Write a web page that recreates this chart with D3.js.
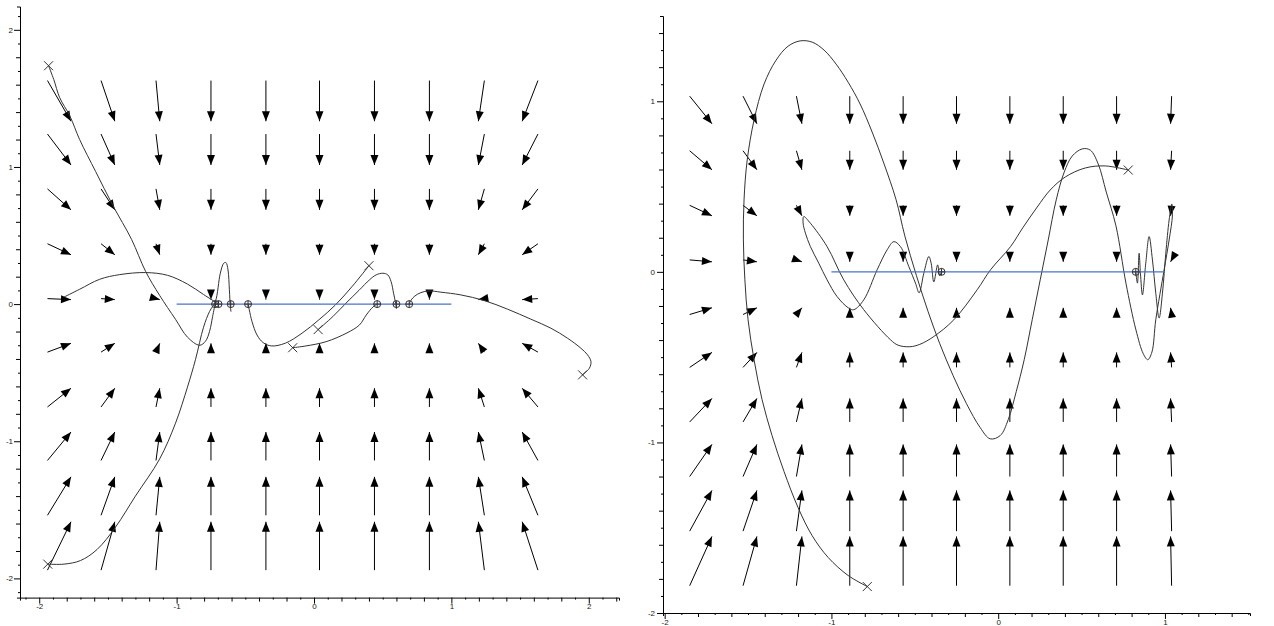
<!DOCTYPE html>
<html>
<head>
<meta charset="utf-8">
<script src="https://cdn.jsdelivr.net/npm/d3@7"></script>
<style>
body { margin: 0; background: #fff; }
text { font-family: "Liberation Sans", Arial, sans-serif; }
</style>
</head>
<body>
<div id="chart"></div>
<script>
// ---------- left plot : field grid (arrow tails) and field values ----------
var leftGridX = [-1.94, -1.55, -1.15, -0.75, -0.35, 0.04, 0.44, 0.84, 1.24, 1.63];
var leftGridY = [1.63, 1.24, 0.84, 0.44, 0.04, -0.35, -0.75, -1.14, -1.54, -1.94];
var leftU = [0.94, 0.55, 0.15, 0, 0, 0, 0, 0, -0.24, -0.63];   // per column
var leftV = [-1.63, -1.24, -0.84, -0.44, -0.04, 0.35, 0.75, 1.14, 1.54, 1.94]; // per row

// left plot trajectories
var trajA = [[-1.932,1.738],[-1.894,1.637],[-1.851,1.505],[-1.778,1.374],[-1.706,1.200],[-1.589,0.966],[-1.464,0.719],[-1.328,0.472],[-1.226,0.239],[-1.124,0.064],[-1.008,-0.111],[-0.921,-0.241],[-0.833,-0.300],[-0.790,-0.271],[-0.760,-0.198],[-0.738,-0.09],[-0.72,0.0]];
var trajB = [[-1.938,-1.896],[-1.82,-1.896],[-1.70,-1.87],[-1.58,-1.79],[-1.444,-1.625],[-1.30,-1.40],[-1.124,-1.13],[-1.008,-0.868],[-0.921,-0.605],[-0.862,-0.402],[-0.804,-0.168],[-0.76,-0.053],[-0.718,0.018],[-0.682,0.225],[-0.657,0.298],[-0.641,0.303],[-0.626,0.249],[-0.616,0.104],[-0.609,-0.018],[-0.604,-0.055]];
var trajC = [[-1.822,0.050],[-1.706,0.108],[-1.560,0.181],[-1.414,0.215],[-1.226,0.230],[-1.066,0.210],[-0.921,0.146],[-0.804,0.070],[-0.695,0.0]];
var trajE = [[0.40,0.28],[0.277,0.128],[0.156,-0.006],[0.035,-0.115],[-0.087,-0.212],[-0.209,-0.285],[-0.31,-0.305],[-0.37,-0.281],[-0.415,-0.225],[-0.451,-0.128],[-0.471,-0.042],[-0.48,0.0]];
var trajF = [[0.03,-0.186],[0.137,-0.091],[0.233,0.007],[0.331,0.104],[0.404,0.177],[0.452,0.213],[0.501,0.225],[0.537,0.213],[0.561,0.164],[0.579,0.080],[0.595,0.001],[0.60,-0.035]];
var trajG = [[-0.155,-0.318],[-0.058,-0.305],[0.088,-0.274],[0.24,-0.21],[0.331,-0.152],[0.38,-0.08],[0.43,-0.02],[0.46,0.0]];
var trajH = [[1.955,-0.516],[2.004,-0.468],[2.016,-0.419],[1.991,-0.370],[1.943,-0.322],[1.846,-0.249],[1.725,-0.176],[1.579,-0.110],[1.409,-0.037],[1.239,0.026],[1.069,0.067],[0.924,0.087],[0.838,0.096],[0.778,0.084],[0.729,0.055],[0.700,0.018],[0.693,0.0]];
var leftStarts = [[-1.932,1.738],[-1.938,-1.896],[0.40,0.28],[0.03,-0.186],[-0.155,-0.318],[1.955,-0.516]];
var leftEnds = [[-0.72,0],[-0.695,0],[-0.606,0],[-0.48,0],[0.46,0],[0.60,0],[0.693,0]];
var leftSegment = [[-1,0],[1,0]];
var leftXLabels = [-2, -1, 0, 1, 2];
var leftYLabels = [-2, -1, 0, 1, 2];

// ---------- right plot ----------
var rightGridX = [-1.85, -1.53, -1.21, -0.89, -0.57, -0.25, 0.07, 0.39, 0.71, 1.04];
var rightGridY = [1.03, 0.71, 0.39, 0.07, -0.25, -0.56, -0.88, -1.2, -1.52, -1.84];
var rightU = [0.85, 0.53, 0.21, 0, 0, 0, 0, 0, 0, -0.04];
var rightV = [-1.03, -0.71, -0.39, -0.07, 0.25, 0.56, 0.88, 1.2, 1.52, 1.84];

var trajR1 = [[-0.785,-1.845],[-0.900,-1.780],[-1.020,-1.674],[-1.116,-1.546],[-1.200,-1.382],[-1.284,-1.171],[-1.356,-0.960],[-1.416,-0.749],[-1.464,-0.515],[-1.500,-0.281],[-1.519,-0.047],[-1.528,0.187],[-1.524,0.422],[-1.505,0.656],[-1.464,0.890],[-1.404,1.101],[-1.332,1.241],[-1.260,1.323],[-1.188,1.354],[-1.116,1.347],[-1.044,1.300],[-0.972,1.218],[-0.900,1.112],[-0.828,0.984],[-0.756,0.820],[-0.684,0.632],[-0.612,0.422],[-0.56,0.211],[-0.49,-0.023],[-0.42,-0.234],[-0.35,-0.422],[-0.27,-0.609],[-0.19,-0.773],[-0.108,-0.913],[-0.048,-0.979],[0.012,-0.960],[0.060,-0.867],[0.108,-0.703],[0.156,-0.515],[0.204,-0.281],[0.252,-0.047],[0.300,0.187],[0.348,0.422],[0.396,0.585],[0.444,0.679],[0.504,0.721],[0.552,0.714],[0.600,0.632],[0.648,0.468],[0.706,0.27],[0.766,-0.066],[0.826,-0.34],[0.87,-0.48],[0.897,-0.515],[0.922,-0.47],[0.945,-0.281],[0.995,0.012],[1.025,0.187],[1.045,0.334],[1.041,0.398],[1.025,0.304],[1.005,0.109],[0.985,-0.125],[0.965,-0.271],[0.945,-0.125],[0.925,0.070],[0.905,0.207],[0.885,0.051],[0.865,-0.135],[0.853,-0.008],[0.845,0.109],[0.835,-0.066],[0.825,0.0]];
var trajR2 = [[0.780,0.597],[0.642,0.621],[0.522,0.609],[0.402,0.556],[0.312,0.480],[0.234,0.380],[0.150,0.262],[0.074,0.148],[-0.046,0.012],[-0.126,-0.105],[-0.266,-0.281],[-0.386,-0.379],[-0.47,-0.425],[-0.53,-0.439],[-0.60,-0.43],[-0.646,-0.398],[-0.806,-0.222],[-0.926,-0.047],[-1.026,0.148],[-1.126,0.285],[-1.166,0.324],[-1.17,0.287],[-1.156,0.227],[-1.126,0.148],[-1.076,0.051],[-1.026,-0.047],[-0.966,-0.145],[-0.896,-0.213],[-0.866,-0.222],[-0.806,-0.164],[-0.726,0.012],[-0.666,0.129],[-0.626,0.177],[-0.586,0.148],[-0.536,0.031],[-0.496,-0.066],[-0.474,-0.123],[-0.446,-0.008],[-0.416,0.090],[-0.402,0.051],[-0.386,-0.059],[-0.363,0.041],[-0.351,-0.023],[-0.34,0.0]];
var rightStarts = [[-0.785,-1.845],[0.780,0.597]];
var rightEnds = [[-0.34,0],[0.825,0]];
var rightSegment = [[-1,0],[1,0]];
var rightXLabels = [-2, -1, 0, 1];
var rightYLabels = [-2, -1, 0, 1];

// ---------- drawing ----------
var HEAD_LEN = 10, HEAD_W = 4;

var svg = d3.select("#chart").append("svg")
	.attr("width", 1274)
	.attr("height", 626);

svg.append("rect").attr("width", 1274).attr("height", 626).attr("fill", "#fff");

function tickLen(d) {
	var k = Math.round(d * 10);
	if (k % 10 === 0) return 6;
	return (k % 2 === 0) ? 4 : 2;
}

function headPath(x0, y0, x1, y1) {
	var dx = x1 - x0, dy = y1 - y0, len = Math.sqrt(dx*dx + dy*dy);
	if (len < 0.01) return null;
	var ux = dx/len, uy = dy/len;
	var bx = x1 - ux*HEAD_LEN, by = y1 - uy*HEAD_LEN;
	return "M" + x1 + "," + y1 +
		"L" + (bx - uy*HEAD_W) + "," + (by + ux*HEAD_W) +
		"L" + (bx + uy*HEAD_W) + "," + (by - ux*HEAD_W) + "Z";
}

function drawPanel(p) {
	var x = d3.scaleLinear().domain(p.xDomain).range(p.xRange);
	var y = d3.scaleLinear().domain(p.yDomain).range(p.yRange);
	var g = svg.append("g");

	// axes with a tick every 0.1
	var xt = d3.range(Math.ceil(p.xDomain[0]*10), Math.floor(p.xDomain[1]*10) + 1).map(function(d) {return d/10;});
	var yt = d3.range(Math.ceil(p.yDomain[0]*10), Math.floor(p.yDomain[1]*10) + 1).map(function(d) {return d/10;});

	var xAxis = g.append("g")
		.attr("transform", "translate(0," + p.yRange[0] + ")")
		.call(d3.axisBottom(x).tickValues(xt).tickSizeOuter(0).tickSize(3).tickPadding(p.xPad)
			.tickFormat(function(d) {return p.xLabels.indexOf(Math.round(d*10)/10) >= 0 ? String(d) : "";}));
	xAxis.selectAll(".tick line").attr("y2", tickLen);

	var yAxis = g.append("g")
		.attr("transform", "translate(" + p.xRange[0] + ",0)")
		.call(d3.axisLeft(y).tickValues(yt).tickSizeOuter(0).tickSize(3).tickPadding(p.yPad)
			.tickFormat(function(d) {return p.yLabels.indexOf(Math.round(d*10)/10) >= 0 ? String(d) : "";}));
	yAxis.selectAll(".tick line").attr("x2", function(d) {return -tickLen(d);});

	g.selectAll(".domain").attr("stroke", "#000");
	g.selectAll(".tick text").style("font-size", "8px").attr("fill", "#222");

	// vector field
	var cells = d3.cross(d3.range(p.gridX.length), d3.range(p.gridY.length));
	var arrows = g.append("g");
	cells.forEach(function(c) {
		var i = c[0], j = c[1];
		var x0 = x(p.gridX[i]), y0 = y(p.gridY[j]);
		var x1 = x(p.gridX[i] + p.scale*p.u[i]), y1 = y(p.gridY[j] + p.scale*p.v[j]);
		arrows.append("line")
			.attr("x1", x0).attr("y1", y0).attr("x2", x1).attr("y2", y1)
			.attr("stroke", "#000").attr("stroke-width", 1);
		var hp = headPath(x0, y0, x1, y1);
		if (hp) arrows.append("path").attr("d", hp).attr("fill", "#000");
	});

	// trajectories
	var lineGen = d3.line()
		.x(function(d) {return x(d[0]);})
		.y(function(d) {return y(d[1]);})
		.curve(d3.curveCatmullRom.alpha(0.5));

	g.selectAll(".traj")
		.data(p.trajectories)
		.enter().append("path")
		.attr("class", "traj")
		.attr("d", lineGen)
		.attr("fill", "none")
		.attr("stroke", "#333")
		.attr("stroke-width", 1);

	// segment of rest points
	g.append("path")
		.datum(p.segment)
		.attr("d", d3.line().x(function(d) {return x(d[0]);}).y(function(d) {return y(d[1]);}))
		.attr("stroke", "#4a72c4")
		.attr("stroke-width", 1.2)
		.attr("fill", "none");

	// start markers (x)
	g.selectAll(".start")
		.data(p.starts)
		.enter().append("path")
		.attr("class", "start")
		.attr("transform", function(d) {return "translate(" + x(d[0]) + "," + y(d[1]) + ")";})
		.attr("d", "M-4.5,-4.5L4.5,4.5M-4.5,4.5L4.5,-4.5")
		.attr("stroke", "#333")
		.attr("stroke-width", 1);

	// end markers (circle plus)
	var ends = g.selectAll(".end")
		.data(p.ends)
		.enter().append("g")
		.attr("class", "end")
		.attr("transform", function(d) {return "translate(" + x(d[0]) + "," + y(d[1]) + ")";});
	ends.append("circle").attr("r", 3.5).attr("fill", "none").attr("stroke", "#333").attr("stroke-width", 1);
	ends.append("path").attr("d", "M-3.5,0L3.5,0M0,-3.5L0,3.5").attr("stroke", "#333").attr("stroke-width", 1);
}

drawPanel({
	xDomain: [-2.14, 2.22], xRange: [20, 619],
	yDomain: [-2.14, 2.17], yRange: [597.6, 6.5],
	xPad: 3, yPad: 4,
	gridX: leftGridX, gridY: leftGridY, u: leftU, v: leftV, scale: 0.182,
	trajectories: [trajA, trajB, trajC, trajE, trajF, trajG, trajH],
	starts: leftStarts, ends: leftEnds, segment: leftSegment,
	xLabels: leftXLabels, yLabels: leftYLabels
});

drawPanel({
	xDomain: [-2.01, 1.51], xRange: [663, 1250],
	yDomain: [-2, 1.5], yRange: [613, 16],
	xPad: 3, yPad: 5,
	gridX: rightGridX, gridY: rightGridY, u: rightU, v: rightV, scale: 0.157,
	trajectories: [trajR1, trajR2],
	starts: rightStarts, ends: rightEnds, segment: rightSegment,
	xLabels: rightXLabels, yLabels: rightYLabels
});
</script>
</body>
</html>
